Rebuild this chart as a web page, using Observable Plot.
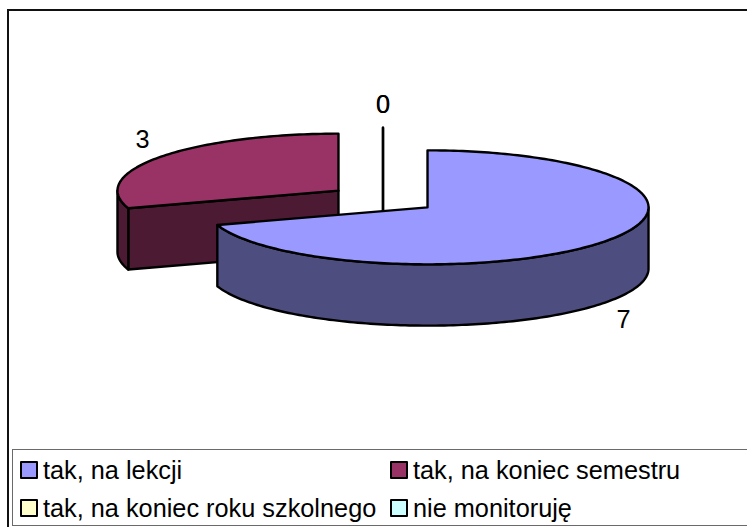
<!DOCTYPE html>
<html lang="pl">
<head>
<meta charset="utf-8">
<script src="https://cdn.jsdelivr.net/npm/d3@7"></script>
<script src="https://cdn.jsdelivr.net/npm/@observablehq/plot@0.6"></script>
<style>
html,body{margin:0;padding:0;background:#fff;width:747px;height:527px;overflow:hidden;font-family:"Liberation Sans",Arial,sans-serif;}
#frame{position:absolute;left:7px;top:9px;width:800px;height:600px;border:2px solid #111;border-right:0;border-bottom:0;box-sizing:border-box;}
#chart{position:absolute;left:0;top:0;}
#chart svg{display:block;background:transparent;}
#legend{position:absolute;left:12px;top:449px;width:800px;height:77px;box-sizing:border-box;border:1.5px solid #6a6a6a;background:#fff;}
.item{position:absolute;font-size:25.3px;line-height:38px;height:38px;color:#000;white-space:nowrap;}
.sw{position:absolute;left:0;top:10px;width:18px;height:18px;box-sizing:border-box;border:2.5px solid #000;border-radius:1px;}
.lb{position:absolute;left:23px;top:0;}
</style>
</head>
<body>
<div id="frame"></div>
<div id="chart"></div>
<div id="legend"></div>
<script>
const categories = ["tak, na lekcji", "tak, na koniec semestru", "tak, na koniec roku szkolnego", "nie monitoruję"];
const values = [7, 3, 0, 0];
const topColors = ["#9999FF", "#993366", "#FFFFCC", "#CCFFFF"];
const sideColors = ["#4D4D80", "#4D1A33", "#808066", "#668080"];

// pie geometry, in units of the pie radius
const explode = 0.249, depth = 1.075, labelRadius = 1.096;
const labelLift = [0.25, 0.25, 0.31, 0.31];

const slices = d3.pie().sort(null).startAngle(0).endAngle(2 * Math.PI)(values).map((a, i) => {
  const mid = (a.startAngle + a.endAngle) / 2;
  return {i, value: a.value, a0: a.startAngle, a1: a.endAngle, mid,
    ax: explode * Math.sin(mid), ay: explode * Math.cos(mid)};
});
const rim = (s, a) => ({x: s.ax + Math.sin(a), y: s.ay + Math.cos(a)});
const down = (p) => ({x: p.x, y: p.y - depth});
const arc = (s, from, to) => {
  const n = Math.max(1, Math.ceil(Math.abs(to - from) / 0.02));
  return d3.range(n + 1).map(k => rim(s, from + (to - from) * k / n));
};
const close = (pts) => [...pts, pts[0]];
const apex = (s) => ({x: s.ax, y: s.ay});

// visible part of the outer wall: the front half of the ellipse
function outerWall(s) {
  const from = Math.max(s.a0, Math.PI / 2), to = Math.min(s.a1, 3 * Math.PI / 2);
  if (to <= from) return null;
  const a = arc(s, from, to);
  return close([...a, ...a.slice().reverse().map(down)]);
}
function radialWall(s, angle) {
  const p = rim(s, angle);
  return close([apex(s), p, down(p), down(apex(s))]);
}
function topFace(s) {
  return close([apex(s), ...arc(s, s.a0, s.a1)]);
}

const face = (pts, fill) => Plot.line(pts, {x: "x", y: "y", fill, stroke: "#000", strokeWidth: 2.4, strokeLinejoin: "round", curve: "linear"});

const marks = [];
// zero-value slices are just a vertical sliver
slices.filter(s => s.value === 0).forEach(s => {
  const p = rim(s, s.a0);
  marks.push(face([p, apex(s), down(apex(s))], "none"));
});
// red first (behind), then blue in front
[slices[1], slices[0]].forEach(s => {
  if (s.i === 1) marks.push(face(radialWall(s, s.a0), sideColors[s.i]));
  const w = outerWall(s);
  if (w) marks.push(face(w, sideColors[s.i]));
  marks.push(face(topFace(s), topColors[s.i]));
});

const labels = slices.map(s => {
  const c = Math.cos(s.mid);
  const lift = labelLift[s.i];
  return {
    value: s.value,
    x: s.ax + labelRadius * Math.sin(s.mid),
    y: s.ay + labelRadius * c + (c >= 0 ? lift : -lift - depth)
  };
});
marks.push(Plot.text(labels, {x: "x", y: "y", text: d => String(d.value), fontSize: 25.3, fontFamily: "Liberation Sans, Arial, sans-serif", fill: "#000", textAnchor: "middle", lineAnchor: "middle"}));

const cx = 382.5, cy = 198.5, rx = 221, ry = 57;
const chart = Plot.plot({
  width: 747, height: 449,
  marginTop: 0, marginRight: 0, marginBottom: 0, marginLeft: 0,
  style: {background: "transparent", overflow: "visible"},
  x: {domain: [-1, 1], range: [cx - rx, cx + rx], axis: null},
  y: {domain: [-1, 1], range: [cy + ry, cy - ry], axis: null},
  marks
});
document.getElementById("chart").appendChild(chart);

// legend below the SVG
const legend = document.getElementById("legend");
const colX = [7, 377], rowY = [1, 39];
categories.forEach((name, i) => {
  const it = document.createElement("div");
  it.className = "item";
  it.style.left = colX[i % 2] + "px";
  it.style.top = rowY[Math.floor(i / 2)] + "px";
  const sw = document.createElement("span");
  sw.className = "sw";
  sw.style.background = topColors[i];
  const lb = document.createElement("span");
  lb.className = "lb";
  lb.textContent = name;
  it.append(sw, lb);
  legend.appendChild(it);
});
</script>
</body>
</html>
